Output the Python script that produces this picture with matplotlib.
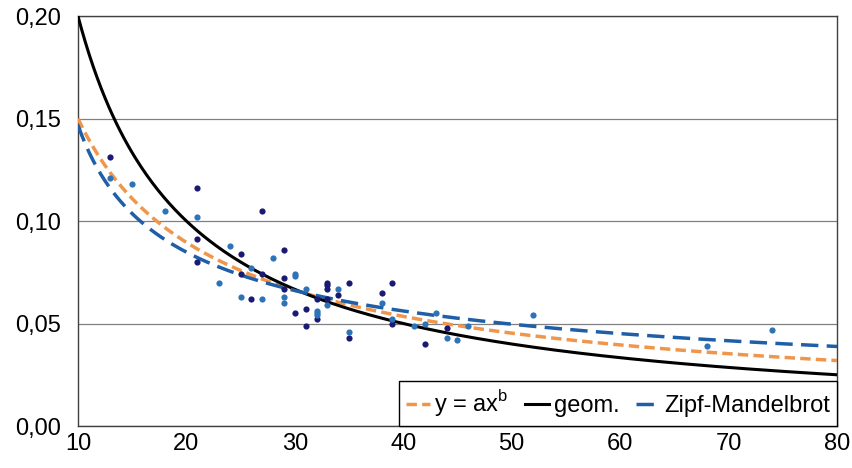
import numpy as np
import matplotlib.pyplot as plt
from matplotlib.ticker import FuncFormatter

plt.rcParams['font.family'] = ['Liberation Sans', 'DejaVu Sans']

# observed points, two groups
navy_x = [13, 21, 21, 21, 27, 25, 25, 29, 29, 29, 27, 26, 30, 31, 31, 32, 32,
          33, 33, 33, 33, 34, 35, 35, 38, 39, 39, 42, 44]
navy_y = [0.131, 0.116, 0.091, 0.080, 0.105, 0.084, 0.074, 0.086, 0.072, 0.067,
          0.074, 0.062, 0.055, 0.057, 0.049, 0.062, 0.052, 0.070, 0.069, 0.067,
          0.062, 0.064, 0.070, 0.043, 0.065, 0.070, 0.050, 0.040, 0.048]

blue_x = [13, 15, 18, 21, 24, 23, 25, 26, 27, 28, 29, 29, 30, 30, 31, 32, 32, 32,
          33, 34, 35, 38, 39, 41, 42, 43, 44, 45, 46, 52, 68, 74]
blue_y = [0.121, 0.118, 0.105, 0.102, 0.088, 0.070, 0.063, 0.077, 0.062, 0.082,
          0.063, 0.060, 0.074, 0.073, 0.067, 0.056, 0.055, 0.054, 0.059, 0.067,
          0.046, 0.060, 0.052, 0.049, 0.050, 0.055, 0.043, 0.042, 0.049, 0.054,
          0.039, 0.047]

# fitted model parameters
power_a, power_b = 0.832, -0.744
geom_c = 2.0
zm_c, zm_q, zm_s = 0.309, -5.3, 0.481

xs = np.linspace(10, 80, 400)
y_power = power_a * xs ** power_b
y_geom = geom_c / xs
y_zm = zm_c * (xs + zm_q) ** (-zm_s)

fig = plt.figure(figsize=(8.52, 4.68), dpi=100)
ax = fig.add_axes([0.0915, 0.0897, 0.8909, 0.8761])

ax.plot(xs, y_power, color='#f0964c', linestyle=(0, (3, 1.5)), lw=2.5,
        label='y = ax$^\\mathregular{b}$', zorder=3)
ax.plot(xs, y_geom, color='black', lw=2.2, label='geom.', zorder=3)
ax.plot(xs, y_zm, color='#1f5fa8', linestyle=(0, (5, 2.4)), lw=2.5,
        label='Zipf-Mandelbrot', zorder=3)

ax.scatter(navy_x, navy_y, s=20, color='#1a1a72', zorder=4, linewidths=0)
ax.scatter(blue_x, blue_y, s=20, color='#2e73b8', zorder=4, linewidths=0)

ax.set_xlim(10, 80)
ax.set_ylim(0, 0.20)
ax.set_xticks(range(10, 81, 10))
ax.set_yticks([0, 0.05, 0.10, 0.15, 0.20])
ax.yaxis.set_major_formatter(FuncFormatter(lambda v, p: f'{v:.2f}'.replace('.', ',')))
ax.tick_params(length=0, labelsize=17, colors='black')
ax.tick_params(axis='y', pad=12)
ax.tick_params(axis='x', pad=5)
ax.grid(axis='y', color='#808080', lw=0.9)
ax.set_axisbelow(True)
for s in ax.spines.values():
    s.set_color('#404040')
    s.set_linewidth(1.0)

leg = ax.legend(loc='lower right', ncol=3, fontsize=17, frameon=True,
                fancybox=False, edgecolor='black', handlelength=1.0,
                handletextpad=0.2, columnspacing=0.7, borderaxespad=0,
                borderpad=0.3, framealpha=1)
leg.get_frame().set_linewidth(1.0)

fig.savefig('out.png', dpi=100)
